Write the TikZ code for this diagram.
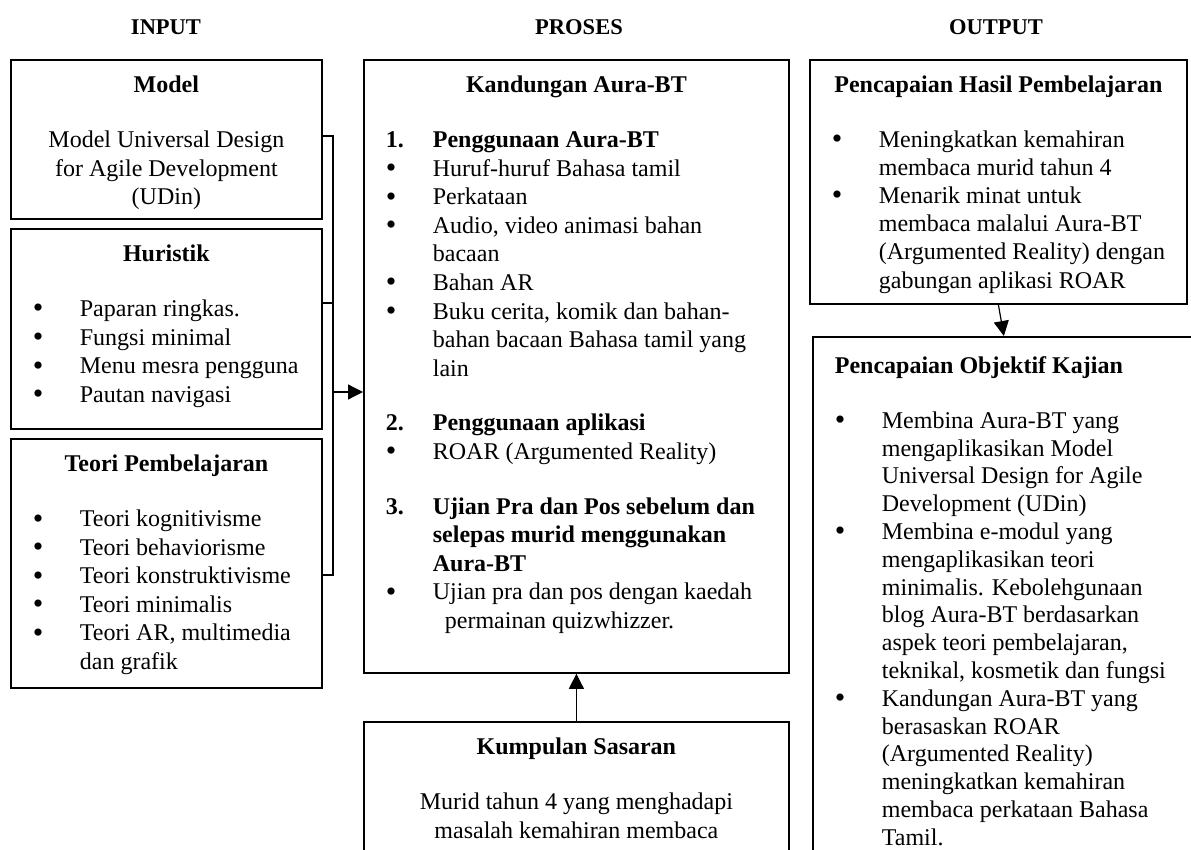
\documentclass[tikz,border=0pt]{standalone}
\usepackage{fontspec}
\setmainfont{Liberation Serif}
\usetikzlibrary{arrows.meta}

\newcommand{\ttl}[1]{{\centering\rule{0pt}{33pt}\bfseries #1\par}\vspace{26pt}}
\newcommand{\ttlleft}[1]{{\rule{0pt}{36.5pt}\bfseries #1\par}\vspace{27pt}}
\newcommand{\dotmark}{\smash{\raisebox{-1.5pt}{\scalebox{1.25}{\textbullet}}}}
\newcommand{\bul}[1]{\par\hangindent=47pt\hangafter=1\noindent\makebox[47pt][l]{\dotmark}#1\par}
\newcommand{\numitem}[2]{\par\hangindent=47pt\hangafter=1\noindent\makebox[47pt][l]{\bfseries #1}\textbf{#2}\par}
\newcommand{\gap}{\vspace{26pt}}
\newcommand{\boxtext}[3]{\parbox[t][#2pt][t]{#1pt}{\leftskip=22pt\rightskip=0pt plus 1fil\parfillskip=0pt plus 1fil #3}}

\begin{document}
\begin{tikzpicture}[x=1pt, y=-1pt, font=\fontsize{24}{28.6}\selectfont,
    box/.style={draw, line width=1.8pt, inner sep=0pt, anchor=north west},
    head/.style={font=\fontsize{22.5}{28}\selectfont\bfseries},
    conn/.style={line width=1.2pt},
    arr/.style={conn, -{Triangle[length=15pt,width=15pt]}}]
    \clip (0,0) rectangle (1191,850);
    % headings
    \node[head] (hin) at (166,27) {INPUT};
    \node[head] (hproses) at (579,27) {PROSES};
    \node[head] (hout) at (996,27) {OUTPUT};
    % input
    \node[box] (model) at (10,59) {\boxtext{311}{159}{%
        \ttl{Model}
        {\centering Model Universal Design\\for Agile Development\\(UDin)\par}}};
    \node[box] (huristik) at (10,228) {\boxtext{311}{200}{%
        \ttl{Huristik}
        \bul{Paparan ringkas.}
        \bul{Fungsi minimal}
        \bul{Menu mesra pengguna}
        \bul{Pautan navigasi}}};
    \node[box] (teori) at (10,438) {\boxtext{311}{249}{%
        \ttl{Teori Pembelajaran}
        \bul{Teori kognitivisme}
        \bul{Teori behaviorisme}
        \bul{Teori konstruktivisme}
        \bul{Teori minimalis}
        \bul{Teori AR, multimedia\\dan grafik}}};
    % proses
    \node[box] (proses) at (363,59) {\boxtext{425}{613}{%
        \ttl{Kandungan Aura-BT}
        \numitem{1.}{Penggunaan Aura-BT}
        \bul{Huruf-huruf Bahasa tamil}
        \bul{Perkataan}
        \bul{Audio, video animasi bahan\\bacaan}
        \bul{Bahan AR}
        \bul{Buku cerita, komik dan bahan-\\bahan bacaan Bahasa tamil yang\\lain}
        \gap
        \numitem{2.}{Penggunaan aplikasi}
        \bul{ROAR (Argumented Reality)}
        \gap
        \numitem{3.}{Ujian Pra dan Pos sebelum dan\\selepas murid menggunakan\\Aura-BT}
        \bul{Ujian pra dan pos dengan kaedah\\\hspace*{12pt}permainan quizwhizzer.}}};
    \node[box] (sasaran) at (363,721) {\boxtext{425}{140}{%
        \ttl{Kumpulan Sasaran}
        {\centering Murid tahun 4 yang menghadapi\\masalah kemahiran membaca\par}}};
    % output
    \node[box] (hasil) at (809,59) {\boxtext{377}{244}{%
        \fontsize{24}{28.2}\selectfont
        \ttl{Pencapaian Hasil Pembelajaran}
        \bul{Meningkatkan kemahiran\\membaca murid tahun 4}
        \bul{Menarik minat untuk\\membaca malalui Aura-BT\\(Argumented Reality) dengan\\gabungan aplikasi ROAR}}};
    \node[box] (objektif) at (812,336) {\boxtext{382}{530}{%
        \fontsize{24}{27.8}\selectfont
        \ttlleft{Pencapaian Objektif Kajian}
        \bul{Membina Aura-BT yang\\mengaplikasikan Model\\Universal Design for Agile\\Development (UDin)}
        \bul{Membina e-modul yang\\mengaplikasikan teori\\minimalis. Kebolehgunaan\\blog Aura-BT berdasarkan\\aspek teori pembelajaran,\\teknikal, kosmetik dan fungsi}
        \bul{Kandungan Aura-BT yang\\berasaskan ROAR\\(Argumented Reality)\\meningkatkan kemahiran\\membaca perkataan Bahasa\\Tamil.}}};
    % connectors
    \coordinate (jtop) at (333,136);
    \coordinate (jmid) at (333,303);
    \coordinate (jarr) at (333,392);
    \coordinate (jbot) at (333,575);
    \draw[conn] (model.east |- jtop) -- (jtop) -- (jbot) -- (teori.east |- jbot);
    \draw[conn] (huristik.east |- jmid) -- (jmid);
    \draw[arr] (jarr) -- (proses.west |- jarr);
    \draw[arr] (sasaran.north) -- (proses.south);
    \draw[arr] (hasil.south) -- (objektif.north);
\end{tikzpicture}
\end{document}
